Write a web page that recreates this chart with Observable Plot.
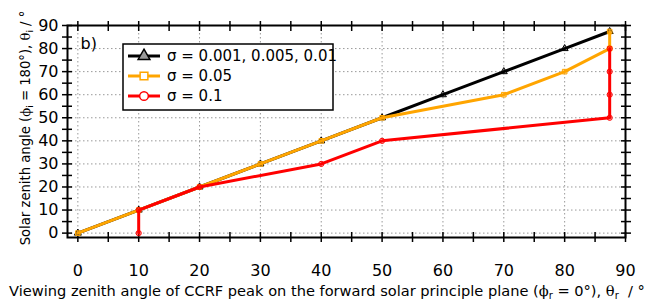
<!DOCTYPE html>
<html><head><meta charset="utf-8">
<script src="https://cdn.jsdelivr.net/npm/d3@7"></script>
<script src="https://cdn.jsdelivr.net/npm/@observablehq/plot@0.6"></script>
<style>body{margin:0;background:#fff} svg{display:block}</style>
</head><body><div id="chart"></div>
<script>
const seriesNames = ["σ = 0.001, 0.005, 0.01", "σ = 0.05", "σ = 0.1"];
const seriesColors = ["#000000", "#FFA500", "#FF0000"];
const seriesSymbols = ["triangle", "square", "circle"];
const blackX = [0, 10, 20, 30, 40, 50, 60, 70, 80, 87.4];
const blackY = [0, 10, 20, 30, 40, 50, 60, 70, 80, 87.4];
const orangeX = [0, 10, 20, 30, 40, 50, 70, 80, 87.4, 87.4];
const orangeY = [0, 10, 20, 30, 40, 50, 60, 70, 80, 87.4];
const redX = [10, 10, 20, 40, 50, 87.4, 87.4, 87.4, 87.4];
const redY = [0, 10, 20, 30, 40, 50, 60, 70, 80];
const majorTicks = [0, 10, 20, 30, 40, 50, 60, 70, 80, 90];
const minorTicks = [5, 15, 25, 35, 45, 55, 65, 75, 85];
const panelLabel = "b)";

const toRows = (xs, ys, s) => xs.map((x, i) => ({x, y: ys[i], s}));
const data = [
  ...toRows(blackX, blackY, 0),
  ...toRows(orangeX, orangeY, 1),
  ...toRows(redX, redY, 2)
];
const allTicks = [...majorTicks, ...minorTicks];
const font = "DejaVu Sans, sans-serif";

const marks = [
  Plot.gridX(majorTicks, {stroke: "#999", strokeOpacity: 1, strokeDasharray: "1.5,2.5", strokeWidth: 1}),
  Plot.gridY(majorTicks, {stroke: "#999", strokeOpacity: 1, strokeDasharray: "1.5,2.5", strokeWidth: 1}),
  // crossing ticks on all four sides
  Plot.axisX(allTicks, {anchor: "bottom", tickSize: 10, dy: -5, text: null, stroke: "#000", strokeWidth: 1.5, label: null}),
  Plot.axisX(allTicks, {anchor: "top", tickSize: 10, dy: 5, text: null, stroke: "#000", strokeWidth: 1.5, label: null}),
  Plot.axisY(allTicks, {anchor: "left", tickSize: 10, dx: 5, text: null, stroke: "#000", strokeWidth: 1.5, label: null}),
  Plot.axisY(allTicks, {anchor: "right", tickSize: 10, dx: -5, text: null, stroke: "#000", strokeWidth: 1.5, label: null}),
  Plot.axisX(majorTicks, {anchor: "bottom", tickSize: 0, tickPadding: 27, label: null, fontSize: 16, fill: "#000"}),
  Plot.axisY(majorTicks, {anchor: "left", tickSize: 0, tickPadding: 9, label: null, fontSize: 16, fill: "#000"}),
  Plot.frame({stroke: "#000", strokeWidth: 2})
];
[0, 1, 2].forEach(s => {
  const rows = data.filter(d => d.s === s);
  marks.push(Plot.line(rows, {x: "x", y: "y", stroke: seriesColors[s], strokeWidth: 3}));
  marks.push(Plot.dot(rows, {x: "x", y: "y", symbol: () => seriesSymbols[s], r: 2.6, stroke: seriesColors[s], strokeWidth: 1, fill: seriesColors[s], fillOpacity: 0.25}));
});
marks.push(Plot.text([panelLabel], {frameAnchor: "top-left", dx: 13, dy: 12, fontSize: 16, fill: "#000", textAnchor: "start"}));

const chart = Plot.plot({
  width: 654, height: 306,
  marginLeft: 67, marginRight: 29, marginTop: 25, marginBottom: 69,
  style: {fontFamily: font, background: "#fff"},
  x: {domain: [-1.7, 90]},
  y: {domain: [-1.9, 90]},
  marks
});
document.getElementById("chart").appendChild(chart);

const svg = d3.select(chart);
const serif = "DejaVu Serif, serif";
// x axis label
const xl = svg.append("text").attr("x", 327).attr("y", 296).attr("text-anchor", "middle")
  .attr("font-family", font).attr("font-size", 14.6).attr("fill", "#000");
xl.append("tspan").text("Viewing zenith angle of CCRF peak on the forward solar principle plane (");
xl.append("tspan").attr("font-family", serif).text("ϕ");
xl.append("tspan").attr("font-size", 10).attr("dy", 3).text("r");
xl.append("tspan").attr("dy", -3).text(" = 0°), ");
xl.append("tspan").attr("font-family", serif).text("θ");
xl.append("tspan").attr("font-size", 10).attr("dy", 3).text("r");
xl.append("tspan").attr("dy", -3).text("  / °");
// y axis label
const yl = svg.append("text").attr("transform", "translate(30,128) rotate(-90)").attr("text-anchor", "middle")
  .attr("font-family", font).attr("font-size", 13.2).attr("fill", "#000");
yl.append("tspan").text("Solar zenith angle (");
yl.append("tspan").attr("font-family", serif).text("ϕ");
yl.append("tspan").attr("font-size", 9).attr("dy", 3).text("i");
yl.append("tspan").attr("dy", -3).text(" = 180°), ");
yl.append("tspan").attr("font-family", serif).text("θ");
yl.append("tspan").attr("font-size", 9).attr("dy", 3).text("i");
yl.append("tspan").attr("dy", -3).text(" / °");

// legend
const lg = svg.append("g").attr("font-family", font).attr("font-size", 15).attr("text-anchor", "start");
lg.append("rect").attr("x", 123).attr("y", 44).attr("width", 210).attr("height", 66)
  .attr("fill", "#fff").attr("stroke", "#000").attr("stroke-width", 1.5);
const symGen = {triangle: d3.symbolTriangle, square: d3.symbolSquare, circle: d3.symbolCircle};
seriesNames.forEach((name, i) => {
  const y = 56 + i * 20;
  lg.append("line").attr("x1", 128).attr("x2", 160).attr("y1", y).attr("y2", y)
    .attr("stroke", seriesColors[i]).attr("stroke-width", 3);
  lg.append("path").attr("transform", `translate(144,${y})`)
    .attr("d", d3.symbol(symGen[seriesSymbols[i]], 60)())
    .attr("fill", i === 0 ? "#999" : "#fff").attr("stroke", seriesColors[i]).attr("stroke-width", 1.5);
  lg.append("text").attr("x", 167).attr("y", y).attr("dy", "0.35em").attr("fill", "#000").text(name);
});
</script>
</body></html>
